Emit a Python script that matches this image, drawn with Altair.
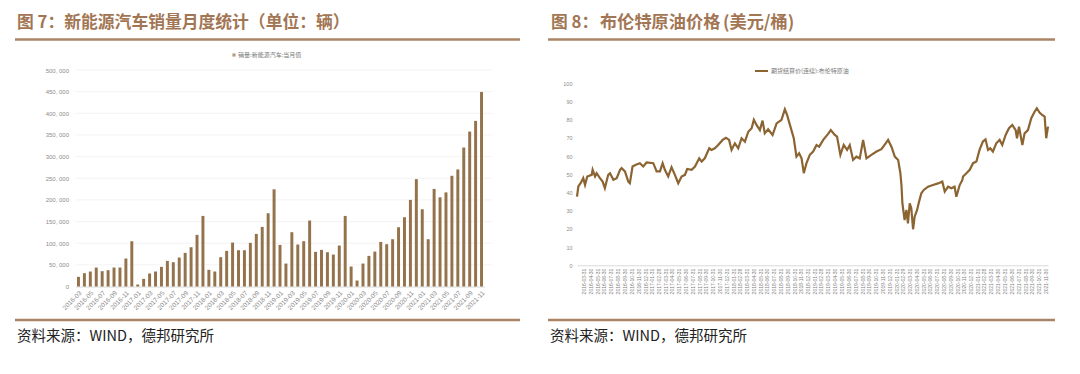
import altair as alt
import pandas as pd

PAD = 5
W, H = 1080 - 16 - 2 * PAD, 374 - 16 - 2 * PAD
OX, OY = 8 + PAD, 8 + PAD  # page position of view origin


def px(x):
    return x - OX


def py(y):
    return y - OY


# ---------------- data ----------------
months = [str(p) for p in pd.period_range("2016-03", "2021-11", freq="M")]
nev_sales = [
    22300, 30800, 34600, 43800, 35400, 37700, 43800, 43800, 64600, 104600,
    4600, 17700, 30000, 34600, 45400, 59200, 56100, 66900, 77700, 90700, 119200, 163000,
    38500, 34600, 67700, 82300, 101500, 83800, 83800, 100700, 121500, 137700, 169200, 224500,
    96100, 53000, 125400, 96900, 104600, 152300, 80000, 84600, 79200, 73800, 94600, 163000,
    46100, 13800, 53000, 70700, 80700, 103000, 97700, 109200, 136900, 160000, 200000, 248000,
    178400, 109200, 225300, 206000, 217300, 255700, 270300, 321000, 357800, 382500, 449300,
]
month_ticks = months[::2]
sales_ticks = [0, 50000, 100000, 150000, 200000, 250000, 300000, 350000, 400000, 450000, 500000]

oil_dates = [
    "2016-03-01", "2016-03-07", "2016-03-17", "2016-03-29", "2016-04-06", "2016-04-16",
    "2016-05-06", "2016-05-10", "2016-05-21", "2016-05-28", "2016-06-12", "2016-06-24",
    "2016-07-04", "2016-07-19", "2016-07-27", "2016-08-11", "2016-08-26", "2016-09-10",
    "2016-09-17", "2016-10-02", "2016-10-17", "2016-10-24", "2016-11-05", "2016-11-20",
    "2016-12-08", "2016-12-23", "2017-01-07", "2017-02-06", "2017-02-21", "2017-03-08",
    "2017-03-20", "2017-03-30", "2017-04-14", "2017-04-29", "2017-05-14", "2017-05-29",
    "2017-06-13", "2017-06-28", "2017-07-08", "2017-07-28", "2017-08-12", "2017-08-31",
    "2017-09-11", "2017-09-25", "2017-10-15", "2017-10-25", "2017-11-09", "2017-11-24",
    "2017-12-14", "2017-12-29", "2018-01-12", "2018-01-23", "2018-02-07", "2018-02-22",
    "2018-03-09", "2018-03-24", "2018-04-08", "2018-04-23", "2018-05-03", "2018-05-15",
    "2018-05-30", "2018-06-11", "2018-06-21", "2018-07-06", "2018-07-26", "2018-08-13",
    "2018-09-04", "2018-09-19", "2018-09-29", "2018-10-14", "2018-10-29", "2018-11-10",
    "2018-11-22", "2018-12-03", "2018-12-13", "2018-12-25", "2019-01-09", "2019-01-24",
    "2019-02-08", "2019-02-20", "2019-03-10", "2019-04-01", "2019-04-13", "2019-05-01",
    "2019-05-11", "2019-05-26", "2019-06-10", "2019-06-25", "2019-07-07", "2019-07-22",
    "2019-08-06", "2019-08-21", "2019-09-05", "2019-09-20", "2019-10-12", "2019-11-04",
    "2019-11-26", "2019-12-15", "2019-12-26", "2020-01-10", "2020-01-25", "2020-02-09",
    "2020-02-19", "2020-02-24", "2020-02-28", "2020-03-09", "2020-03-17", "2020-03-24",
    "2020-04-01", "2020-04-08", "2020-04-16", "2020-04-23", "2020-05-04", "2020-05-13",
    "2020-05-23", "2020-06-03", "2020-06-22", "2020-07-14", "2020-08-06", "2020-08-25",
    "2020-09-05", "2020-09-20", "2020-10-05", "2020-10-19", "2020-10-27", "2020-11-11",
    "2020-11-23", "2020-11-26", "2020-12-11", "2020-12-26", "2021-01-10", "2021-01-25",
    "2021-02-08", "2021-02-23", "2021-03-07", "2021-03-18", "2021-03-28", "2021-04-09",
    "2021-04-24", "2021-05-09", "2021-05-21", "2021-06-05", "2021-06-20", "2021-07-05",
    "2021-07-20", "2021-07-26", "2021-08-04", "2021-08-19", "2021-08-29", "2021-09-13",
    "2021-09-28", "2021-10-13", "2021-10-23", "2021-11-04", "2021-11-16", "2021-11-27",
    "2021-12-04", "2021-12-12",
]
oil_prices = [
    37.7, 43.3, 45.1, 47.9, 44.2, 48.8,
    49.7, 52.5, 48.8, 50.6, 47.9, 46.0,
    42.4, 49.7, 50.6, 47.0, 47.9, 52.5,
    53.4, 51.6, 46.0, 45.1, 54.3, 55.2,
    56.1, 54.3, 56.5, 56.1, 51.6, 51.6,
    56.1, 52.5, 48.8, 53.9, 49.7, 45.1,
    48.8, 49.7, 52.9, 52.5, 54.3, 58.8,
    57.0, 58.8, 64.3, 63.4, 64.3, 66.1,
    68.9, 70.1, 68.9, 63.4, 67.0, 64.3,
    69.8, 67.9, 73.4, 75.3, 79.9, 77.1,
    74.3, 79.5, 72.5, 74.7, 71.6, 78.0,
    79.9, 85.7, 82.6, 76.2, 69.8, 59.7,
    61.5, 58.8, 50.6, 56.1, 60.7, 62.5,
    66.1, 65.2, 68.9, 72.2, 74.3, 71.6,
    70.7, 60.7, 66.1, 63.4, 66.1, 57.9,
    59.7, 58.8, 68.9, 58.8, 60.7, 62.5,
    63.8, 67.0, 68.9, 65.2, 59.7, 57.9,
    50.6, 44.0, 34.1, 24.9, 30.4, 23.0,
    34.1, 31.3, 19.8, 26.7, 30.4, 35.0,
    39.6, 41.4, 43.2, 44.1, 45.0, 46.0,
    40.5, 43.2, 42.3, 43.2, 37.7, 44.1,
    46.9, 48.8, 50.6, 52.5, 56.1, 57.0,
    63.4, 68.0, 69.2, 63.4, 64.3, 62.5,
    67.0, 68.9, 66.1, 71.6, 75.3, 77.1,
    74.3, 69.8, 76.2, 66.1, 72.5, 74.3,
    80.8, 84.4, 86.3, 83.9, 82.6, 81.7,
    69.8, 76.2,
]
price_ticks = [0, 10, 20, 30, 40, 50, 60, 70, 80, 90, 100]
oil_tick_dates = [str(p.end_time.date()) for p in pd.period_range("2016-03", "2021-11", freq="M")]
oil_tick_ms = [int(pd.Timestamp(d).value // 10**6) for d in oil_tick_dates]

title_left = "图 7：新能源汽车销量月度统计（单位：辆）"
title_right_parts = ["图 8：", "布伦特原油价格", "(美元/桶)"]
legend_left = "销量:新能源汽车:当月值"
legend_right = "期货结算价(连续):布伦特原油"
source_text = "资料来源：WIND，德邦研究所"

# ---------------- styles ----------------
BAR = "#94734C"
LINE = "#8B6432"
TITLE_C = "#A27654"
RULE_C = "#AB8465"
LAB_C = "#8C8C8C"
GRID_C = "#F0F0F0"
CJK = "Noto Sans CJK SC"
LAT = "Liberation Sans"

one = alt.Data(values=[{}])

# ---------------- left: NEV sales bars (page coords) ----------------
L_X0, L_X1 = 75.5, 484.5
L_Y0, L_Y1 = 286.5, 70.0
xs_left = alt.Scale(range=[px(L_X0), px(L_X1)], paddingInner=0.5, paddingOuter=0.25)
ys_left = alt.Scale(domain=[0, 500000], range=[py(L_Y0), py(L_Y1)], nice=False, zero=True)

grid_left = alt.Chart(pd.DataFrame({"v": sales_ticks[1:]})).mark_rule(
    color=GRID_C, strokeWidth=0.8
).encode(
    y=alt.Y("v:Q", scale=ys_left, axis=None),
    x=alt.value(px(L_X0)), x2=alt.value(px(492)),
)

bars = alt.Chart(pd.DataFrame({"month": months, "sales": nev_sales})).mark_bar(
    color=BAR
).encode(
    x=alt.X("month:O", sort=None, scale=xs_left,
            axis=alt.Axis(orient="bottom", offset=py(L_Y0) - H, values=month_ticks,
                          labelAngle=-45, labelFontSize=6.5, labelFont=LAT,
                          labelColor=LAB_C, ticks=False, domainColor="#D9D9D9",
                          title=None, grid=False, labelPadding=3)),
    y=alt.Y("sales:Q", scale=ys_left,
            axis=alt.Axis(orient="left", offset=-px(L_X0), values=sales_ticks,
                          labelExpr="replace(format(datum.value, ','), ',', ', ')",
                          domain=False, ticks=False, grid=False, title=None,
                          labelFontSize=6, labelFont=LAT, labelColor=LAB_C,
                          labelPadding=7)),
)

# ---------------- right: Brent line (page coords) ----------------
R_X0, R_X1 = 577.0, 1048.0
R_Y0, R_Y1 = 265.3, 83.3
xs_right = alt.Scale(type="utc", range=[px(R_X0), px(R_X1)])
ys_right = alt.Scale(domain=[0, 100], range=[py(R_Y0), py(R_Y1)], nice=False)

oil = alt.Chart(pd.DataFrame({"date": oil_dates, "price": oil_prices})).mark_line(
    color=LINE, strokeWidth=2.2
).encode(
    x=alt.X("date:T", scale=xs_right,
            axis=alt.Axis(orient="bottom", offset=py(R_Y0) - H, values=oil_tick_ms,
                          format="%Y-%m-%d", labelAngle=-90, labelFontSize=5,
                          labelFont=LAT, labelColor="#808080", ticks=False,
                          domainColor="#D9D9D9", title=None, grid=False,
                          labelPadding=3, labelOverlap=False)),
    y=alt.Y("price:Q", scale=ys_right,
            axis=alt.Axis(orient="left", offset=-px(R_X0), values=price_ticks,
                          domain=False, ticks=False, grid=False, title=None,
                          labelFontSize=5.5, labelFont=LAT, labelColor=LAB_C,
                          labelPadding=5)),
)


# ---------------- decorations (page coords) ----------------
def text_layer(txt, x, y, size, color, weight="normal", font=CJK):
    return alt.Chart(pd.DataFrame({"t": [txt]})).mark_text(
        align="left", baseline="middle", fontSize=size, color=color,
        fontWeight=weight, font=font
    ).encode(text="t:N", x=alt.value(px(x)), y=alt.value(py(y)))


def hrule(x1, x2, y, color, width):
    return alt.Chart(one).mark_rule(color=color, strokeWidth=width).encode(
        x=alt.value(px(x1)), x2=alt.value(px(x2)), y=alt.value(py(y))
    )


TY = 22.5
deco = [
    text_layer(title_left, 17, TY, 16.8, TITLE_C, "bold"),
    text_layer(title_right_parts[0], 551, TY, 16.8, TITLE_C, "bold"),
    text_layer(title_right_parts[1], 600, TY, 17.2, TITLE_C, "bold"),
    text_layer(title_right_parts[2], 723, TY, 17.2, TITLE_C, "bold"),
    hrule(15, 520, 39.5, RULE_C, 2.5),
    hrule(548, 1055, 39.5, RULE_C, 2.5),
    hrule(15, 520, 320, RULE_C, 2.5),
    hrule(548, 1055, 320, RULE_C, 2.5),
    text_layer(source_text, 17, 337, 14.5, "#222222"),
    text_layer(source_text, 550, 337, 14.5, "#222222"),
    # legends
    alt.Chart(one).mark_square(color=BAR, size=10).encode(x=alt.value(px(234)), y=alt.value(py(55))),
    text_layer(legend_left, 238, 55, 6, "#777777"),
    hrule(755, 768, 71, LINE, 2),
    text_layer(legend_right, 771, 71, 6, "#777777"),
]

chart = alt.layer(grid_left, bars, oil, *deco).resolve_scale(
    x="independent", y="independent"
).properties(
    width=W, height=H, autosize=alt.AutoSizeParams(type="none"), padding=PAD
).configure_view(strokeWidth=0)

chart.save("out.html", embed_options={"renderer": "svg", "actions": False})
